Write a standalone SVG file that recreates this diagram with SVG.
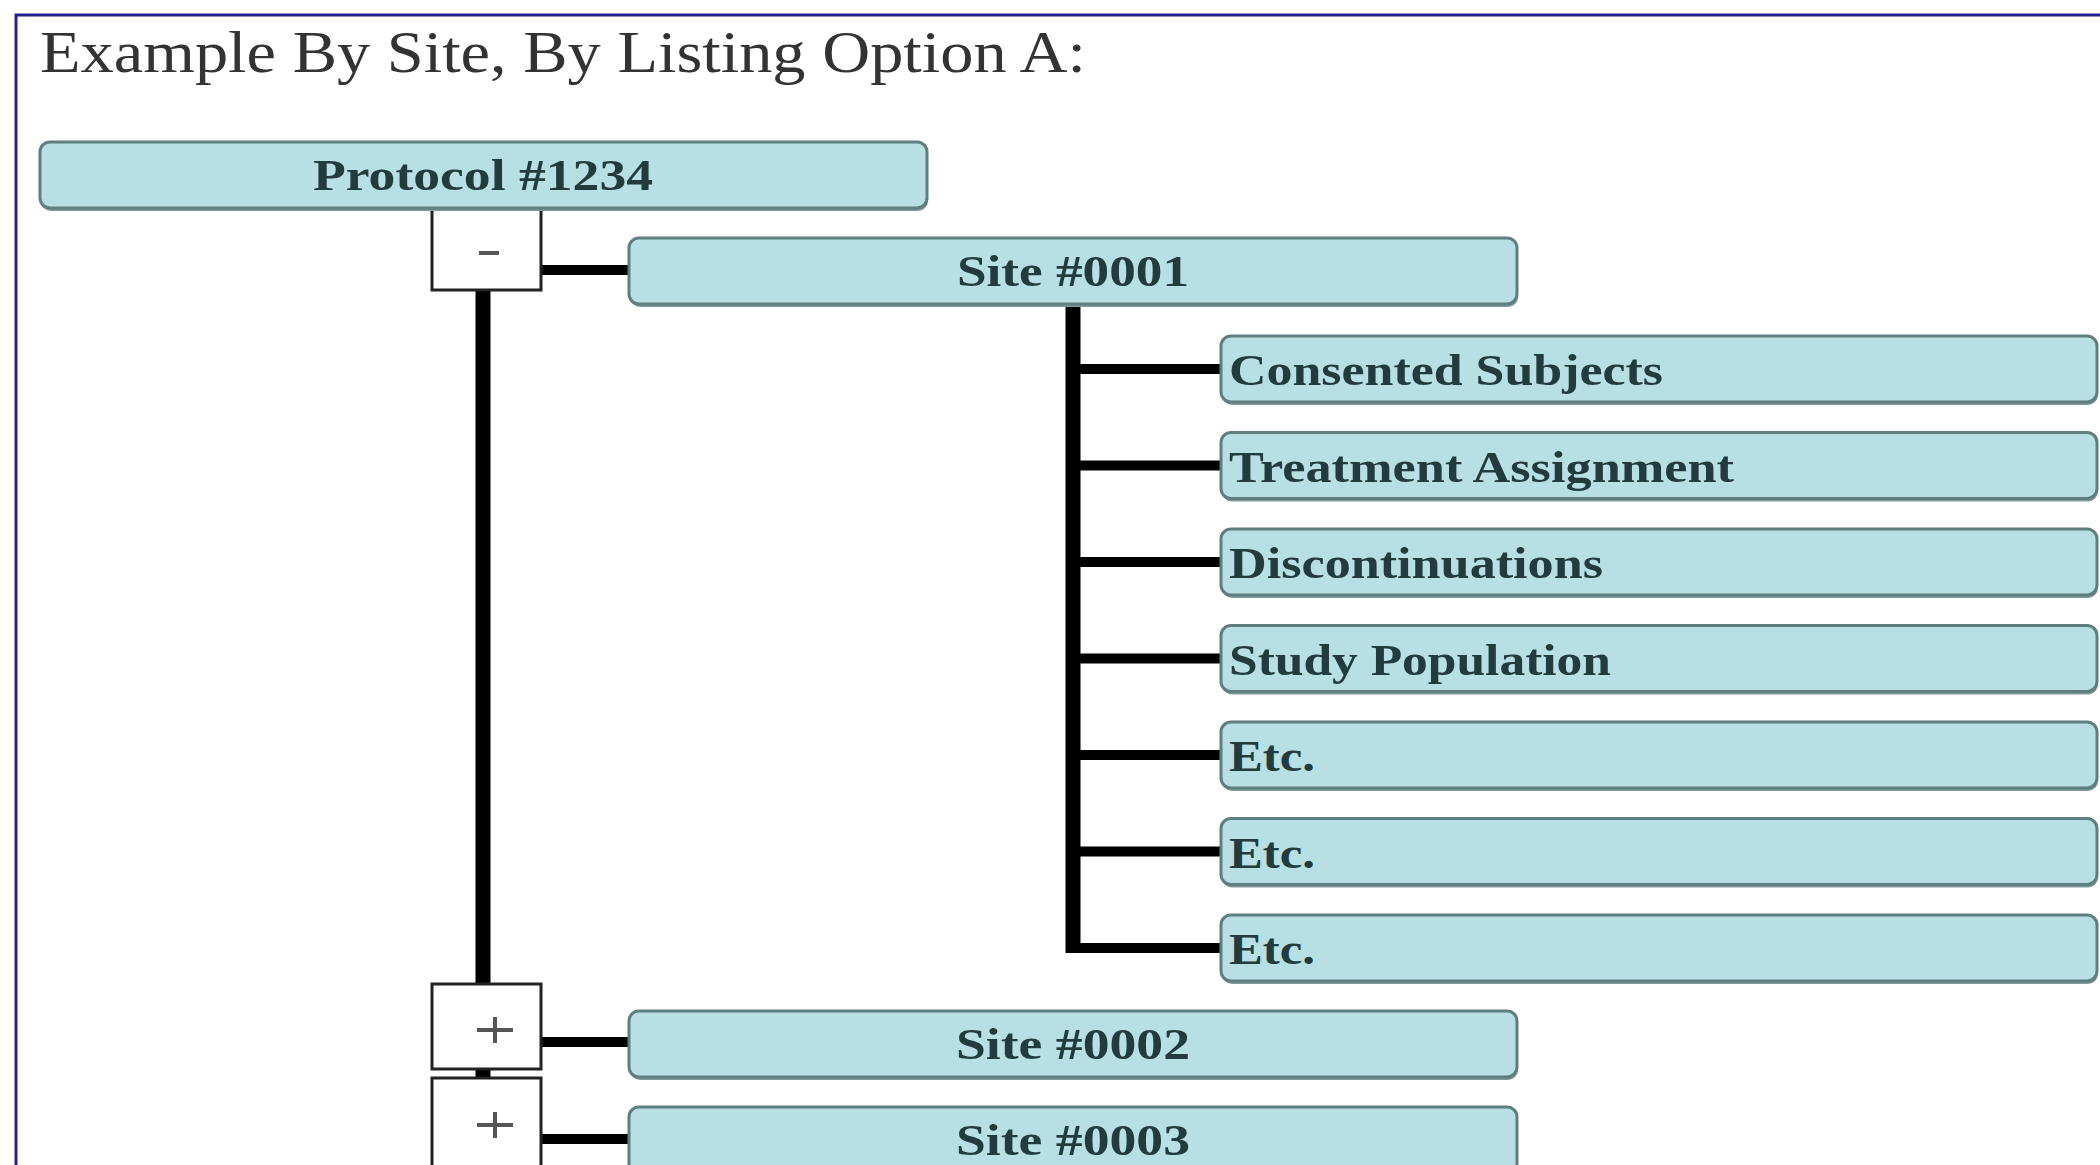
<svg xmlns="http://www.w3.org/2000/svg" width="2100" height="1165" viewBox="0 0 2100 1165">
  <style>
    .title { font-family: "Liberation Serif", "Times New Roman", serif; font-size: 60px; fill: #333333; }
    .node rect.box { fill: #b8dfe3; stroke: #5f7e80; stroke-width: 3; }
    .node rect.shade { fill: #7f999b; }
    .label { font-family: "Liberation Serif", "Times New Roman", serif; font-size: 45px; font-weight: bold; fill: #223c3e; }
    .toggle rect { fill: #ffffff; stroke: #222222; stroke-width: 3; }
    .toggle .sign { stroke: #555555; stroke-width: 4; fill: none; }
    .wire { stroke: #000000; fill: none; }
    .trunk { stroke-width: 15; }
    .branch { stroke-width: 10; }
  </style>

  <rect width="2100" height="1165" fill="#ffffff"/>
  <!-- page frame (continues past the right and bottom edges) -->
  <rect x="16" y="15" width="2200" height="1300" fill="none" stroke="#23238f" stroke-width="3"/>

  <text class="title" x="40" y="72" textLength="1046" lengthAdjust="spacingAndGlyphs">Example By Site, By Listing Option A:</text>

  <!-- connectors -->
  <g id="connectors">
    <line class="wire trunk" x1="483" y1="289" x2="483" y2="985"/>
    <line class="wire trunk" x1="483" y1="1068" x2="483" y2="1079"/>
    <line class="wire branch" x1="541" y1="270" x2="630" y2="270"/>
    <line class="wire branch" x1="541" y1="1042" x2="630" y2="1042"/>
    <line class="wire branch" x1="541" y1="1139" x2="630" y2="1139"/>
    <line class="wire trunk" x1="1073" y1="304" x2="1073" y2="953"/>
    <line class="wire branch" x1="1066" y1="369" x2="1222" y2="369"/>
    <line class="wire branch" x1="1066" y1="465.5" x2="1222" y2="465.5"/>
    <line class="wire branch" x1="1066" y1="562" x2="1222" y2="562"/>
    <line class="wire branch" x1="1066" y1="658.5" x2="1222" y2="658.5"/>
    <line class="wire branch" x1="1066" y1="755" x2="1222" y2="755"/>
    <line class="wire branch" x1="1066" y1="851.5" x2="1222" y2="851.5"/>
    <line class="wire branch" x1="1066" y1="948" x2="1222" y2="948"/>
  </g>

  <!-- expand / collapse toggles -->
  <g id="toggle-site1" class="toggle">
    <rect x="432" y="205" width="109" height="85"/>
    <line class="sign" x1="479" y1="253" x2="499" y2="253"/>
  </g>
  <g id="toggle-site2" class="toggle">
    <rect x="432" y="984" width="109" height="85"/>
    <path class="sign" d="M477 1030 H513 M495 1017 V1043"/>
  </g>
  <g id="toggle-site3" class="toggle">
    <rect x="432" y="1078" width="109" height="95"/>
    <path class="sign" d="M477 1125 H513 M495 1112 V1138"/>
  </g>

  <!-- nodes -->
  <g id="protocol" class="node">
    <rect class="shade" x="41" y="145" width="887" height="66" rx="10"/>
    <rect class="box" x="40" y="142" width="887" height="66" rx="10"/>
    <text class="label" x="483" y="190" text-anchor="middle" textLength="340" lengthAdjust="spacingAndGlyphs">Protocol #1234</text>
  </g>

  <g id="site-0001" class="node">
    <rect class="shade" x="630" y="241" width="888" height="66" rx="10"/>
    <rect class="box" x="629" y="238" width="888" height="66" rx="10"/>
    <text class="label" x="1073" y="286" text-anchor="middle" textLength="232" lengthAdjust="spacingAndGlyphs">Site #0001</text>
  </g>

  <g id="consented-subjects" class="node">
    <rect class="shade" x="1222" y="339" width="876" height="66" rx="10"/>
    <rect class="box" x="1221" y="336" width="876" height="66" rx="10"/>
    <text class="label" x="1229" y="385" textLength="434" lengthAdjust="spacingAndGlyphs">Consented Subjects</text>
  </g>

  <g id="treatment-assignment" class="node">
    <rect class="shade" x="1222" y="435.5" width="876" height="66" rx="10"/>
    <rect class="box" x="1221" y="432.5" width="876" height="66" rx="10"/>
    <text class="label" x="1229" y="481.5" textLength="505" lengthAdjust="spacingAndGlyphs">Treatment Assignment</text>
  </g>

  <g id="discontinuations" class="node">
    <rect class="shade" x="1222" y="532" width="876" height="66" rx="10"/>
    <rect class="box" x="1221" y="529" width="876" height="66" rx="10"/>
    <text class="label" x="1229" y="578" textLength="374" lengthAdjust="spacingAndGlyphs">Discontinuations</text>
  </g>

  <g id="study-population" class="node">
    <rect class="shade" x="1222" y="628.5" width="876" height="66" rx="10"/>
    <rect class="box" x="1221" y="625.5" width="876" height="66" rx="10"/>
    <text class="label" x="1229" y="674.5" textLength="382" lengthAdjust="spacingAndGlyphs">Study Population</text>
  </g>

  <g id="etc-1" class="node">
    <rect class="shade" x="1222" y="725" width="876" height="66" rx="10"/>
    <rect class="box" x="1221" y="722" width="876" height="66" rx="10"/>
    <text class="label" x="1229" y="771" textLength="86" lengthAdjust="spacingAndGlyphs">Etc.</text>
  </g>

  <g id="etc-2" class="node">
    <rect class="shade" x="1222" y="821.5" width="876" height="66" rx="10"/>
    <rect class="box" x="1221" y="818.5" width="876" height="66" rx="10"/>
    <text class="label" x="1229" y="867.5" textLength="86" lengthAdjust="spacingAndGlyphs">Etc.</text>
  </g>

  <g id="etc-3" class="node">
    <rect class="shade" x="1222" y="918" width="876" height="66" rx="10"/>
    <rect class="box" x="1221" y="915" width="876" height="66" rx="10"/>
    <text class="label" x="1229" y="964" textLength="86" lengthAdjust="spacingAndGlyphs">Etc.</text>
  </g>

  <g id="site-0002" class="node">
    <rect class="shade" x="630" y="1014" width="888" height="66" rx="10"/>
    <rect class="box" x="629" y="1011" width="888" height="66" rx="10"/>
    <text class="label" x="1073" y="1059" text-anchor="middle" textLength="234" lengthAdjust="spacingAndGlyphs">Site #0002</text>
  </g>

  <g id="site-0003" class="node">
    <rect class="shade" x="630" y="1110" width="888" height="66" rx="10"/>
    <rect class="box" x="629" y="1107" width="888" height="66" rx="10"/>
    <text class="label" x="1073" y="1155" text-anchor="middle" textLength="234" lengthAdjust="spacingAndGlyphs">Site #0003</text>
  </g>
</svg>
